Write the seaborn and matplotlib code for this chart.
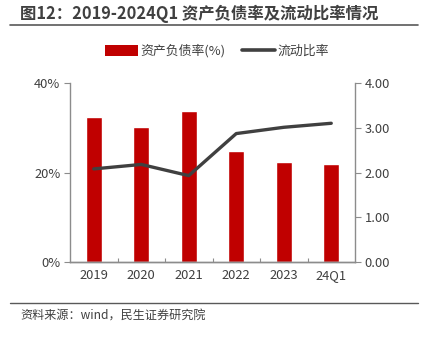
import matplotlib
matplotlib.use("Agg")
import matplotlib.pyplot as plt
from matplotlib.lines import Line2D
from matplotlib.patches import Patch
from matplotlib.ticker import FixedLocator, FuncFormatter
import numpy as np
import pandas as pd
import seaborn as sns

# Data: asset-liability ratio (%) and current ratio, 2019 to 2024Q1
periods = ["2019", "2020", "2021", "2022", "2023", "24Q1"]
debt_ratio = [32.3, 30.2, 33.7, 24.9, 22.3, 22.0]
current_ratio = [2.08, 2.18, 1.93, 2.87, 3.01, 3.10]

title = "图12：2019-2024Q1 资产负债率及流动比率情况"
source = "资料来源：wind，民生证券研究院"
bar_label = "资产负债率(%)"
line_label = "流动比率"

sns.set_theme(style="white")
plt.rcParams["font.family"] = ["Noto Sans CJK SC", "DejaVu Sans"]

RED = "#C00000"
DARK = "#404040"
GRID = "#8C8C8C"
TXT = "#404040"

df = pd.DataFrame({"period": periods, "debt": debt_ratio, "cur": current_ratio})

fig = plt.figure(figsize=(4.22, 3.39), dpi=100)
ax = fig.add_axes([70 / 422, 1 - 262 / 339, 285 / 422, 179 / 339])

sns.barplot(data=df, x="period", y="debt", color=RED, saturation=1,
            width=0.33, ax=ax, order=periods)
ax.set_ylim(0, 40)
ax.yaxis.set_major_locator(FixedLocator([0, 20, 40]))
ax.yaxis.set_major_formatter(FuncFormatter(lambda v, p: f"{v:.0f}%"))
ax.set_xlabel("")
ax.set_ylabel("")

ax2 = ax.twinx()
sns.pointplot(data=df, x="period", y="cur", color=DARK, markers="",
              order=periods, ax=ax2, linewidth=2.4)
ax2.set_ylim(0, 4)
ax2.yaxis.set_major_locator(FixedLocator([0, 1, 2, 3, 4]))
ax2.yaxis.set_major_formatter(FuncFormatter(lambda v, p: f"{v:.2f}"))
ax2.set_ylabel("")
ax2.set_xlabel("")
ax.set_xlim(-0.5, len(periods) - 0.5)
ax2.set_xlim(-0.5, len(periods) - 0.5)

for a in (ax, ax2):
    a.spines["top"].set_visible(False)
    for side in ("left", "right", "bottom"):
        a.spines[side].set_color(GRID)
        a.spines[side].set_linewidth(1.0)

ax.spines["right"].set_visible(False)
ax2.spines["left"].set_visible(False)

TICK_FS = 9.3
ax.tick_params(axis="y", which="major", direction="out", length=4, width=0.8,
               color=GRID, labelsize=TICK_FS, labelcolor=TXT, pad=3, left=True)
ax2.tick_params(axis="y", which="major", direction="out", length=4, width=0.8,
                color=GRID, labelsize=TICK_FS, labelcolor=TXT, pad=3, right=True)
ax.set_xticks(range(len(periods)))
ax.set_xticklabels(periods)
ax.tick_params(axis="x", which="major", length=0, labelsize=TICK_FS,
               labelcolor=TXT, pad=5)
ax.set_xticks(np.arange(0.5, len(periods) - 0.5, 1.0), minor=True)
ax.tick_params(axis="x", which="minor", direction="in", length=3, width=0.8,
               color=GRID, bottom=True)
ax2.tick_params(axis="x", which="both", bottom=False, labelbottom=False)

handles = [Patch(facecolor=RED, edgecolor="none", label=bar_label),
           Line2D([0], [0], color=DARK, lw=2.6, label=line_label)]
fig.legend(handles=handles, loc="center", bbox_to_anchor=(217 / 422, 1 - 51 / 339),
           ncol=2, frameon=False, fontsize=9.3, handlelength=2.5,
           handletextpad=0.2, columnspacing=1.3, labelcolor=TXT,
           handleheight=0.9)

fig.text(20 / 422, 1 - 14 / 339, title, fontsize=11.8, fontweight="bold",
         color=TXT, ha="left", va="center")
fig.add_artist(Line2D([10 / 422, 418 / 422], [1 - 25 / 339, 1 - 25 / 339],
                      color="#595959", lw=1.2))
fig.add_artist(Line2D([10 / 422, 418 / 422], [1 - 303 / 339, 1 - 303 / 339],
                      color="#595959", lw=1.0))
fig.text(20 / 422, 1 - 316 / 339, source, fontsize=8.7, color=TXT,
         ha="left", va="center")

fig.savefig("out.png", dpi=100)
